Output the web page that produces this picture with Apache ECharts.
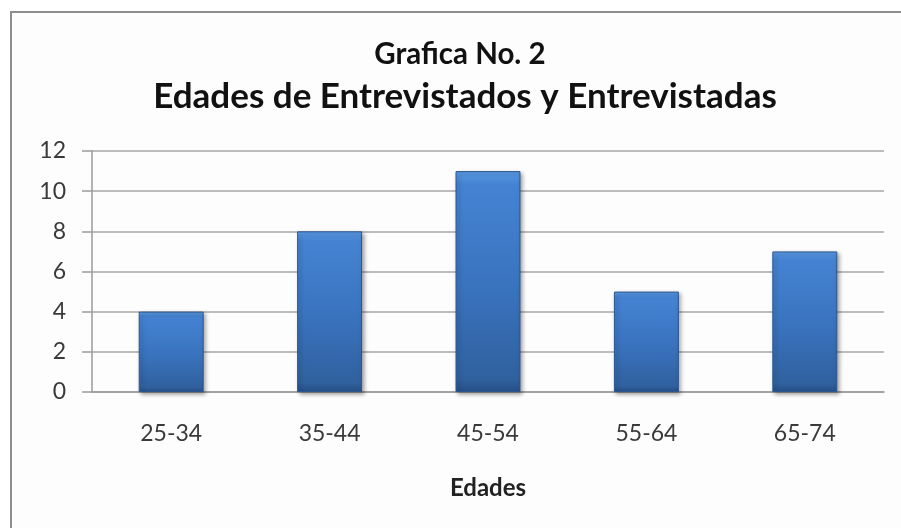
<!DOCTYPE html>
<html>
<head>
<meta charset="utf-8">
<script src="https://cdn.jsdelivr.net/npm/echarts@6/dist/echarts.min.js"></script>
<style>
  html, body { margin: 0; padding: 0; background: #ffffff; }
  #chart { width: 901px; height: 528px; }
</style>
</head>
<body>
<div id="chart"></div>
<script>
// datos de la grafica
var categories = ['25-34', '35-44', '45-54', '55-64', '65-74'];
var counts = [4, 8, 11, 5, 7];
var yTicks = [0, 2, 4, 6, 8, 10, 12];

var titleText = 'Edades de Entrevistados y Entrevistadas';
var subText = 'Grafica No. 2';
var xName = 'Edades';

var FONT = 'Lato, "Open Sans", sans-serif';

var chart = echarts.init(document.getElementById('chart'));

chart.setOption({
  backgroundColor: '#ffffff',
  animation: false,
  // marco del grafico (solo bordes superior e izquierdo visibles)
  graphic: [{
    type: 'rect',
    z: -10,
    shape: { x: 11, y: 12, width: 1000, height: 1000 },
    style: { fill: '#fdfdfd', stroke: '#8e8e8e', lineWidth: 2 }
  }],
  title: [{
    text: subText,
    left: 460,
    textAlign: 'center',
    top: 39,
    padding: 0,
    textStyle: { fontFamily: FONT, fontSize: 29.5, fontWeight: 'bold', color: '#111' }
  }, {
    text: titleText,
    left: 465,
    textAlign: 'center',
    top: 79,
    padding: 0,
    textStyle: { fontFamily: FONT, fontSize: 35, fontWeight: 'bold', color: '#111' }
  }],
  grid: { left: 92, right: 17, top: 151, bottom: 136 },
  xAxis: {
    type: 'category',
    data: categories,
    name: xName,
    nameLocation: 'middle',
    nameGap: 84,
    nameTextStyle: { fontFamily: FONT, fontSize: 24, fontWeight: 'bold', color: '#222' },
    axisLine: { lineStyle: { color: '#9a9a9a', width: 1.5 } },
    axisTick: { show: false },
    axisLabel: { fontFamily: FONT, fontSize: 23, color: '#3a3a3a', margin: 30 }
  },
  yAxis: {
    type: 'value',
    min: yTicks[0],
    max: yTicks[yTicks.length - 1],
    interval: 2,
    axisLine: { show: true, lineStyle: { color: '#9a9a9a', width: 1.5 } },
    axisTick: { show: true, inside: false, length: 10, lineStyle: { color: '#9a9a9a', width: 1.5 } },
    axisLabel: { fontFamily: FONT, fontSize: 23, color: '#3a3a3a', margin: 26 },
    splitLine: { lineStyle: { color: '#a6a6a6', width: 1.5 } }
  },
  series: [{
    type: 'bar',
    data: counts,
    barWidth: '41%',
    itemStyle: {
      color: new echarts.graphic.LinearGradient(0, 0, 0, 1, [
        { offset: 0, color: '#5a9be6' },
        { offset: 0.06, color: '#4583d2' },
        { offset: 0.5, color: '#3a74c0' },
        { offset: 0.94, color: '#30619f' },
        { offset: 1, color: '#264f85' }
      ]),
      borderColor: '#2b5690',
      borderWidth: 1,
      shadowColor: 'rgba(0,0,0,0.35)',
      shadowBlur: 4,
      shadowOffsetX: 2,
      shadowOffsetY: 2
    }
  }]
});
</script>
</body>
</html>
